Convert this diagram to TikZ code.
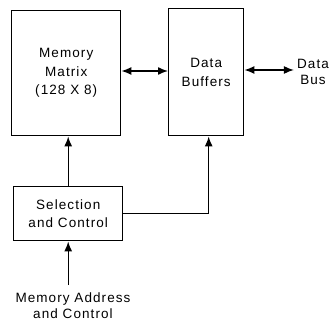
\documentclass[tikz,border=0pt]{standalone}
\usepackage{fontspec}
\setmainfont{Liberation Sans}[LetterSpace=8]
\usetikzlibrary{positioning,arrows.meta}

\begin{document}
\begin{tikzpicture}[x=1pt,y=-1pt,
        block/.style={draw,line width=1.4pt,inner sep=0pt,align=center,anchor=north west,
          font=\fontsize{13.5}{18.5}\selectfont},
        txt/.style={inner sep=0pt,align=center,font=\fontsize{13.5}{16}\selectfont},
        link/.style={line width=1.4pt},
        tip/.style={-{Latex[length=10pt,width=8pt]}},
        tips/.style={{Latex[length=10pt,width=8pt]}-{Latex[length=10pt,width=8pt]}}]
        \useasboundingbox (0,0) rectangle (331,323);
        \node[block,minimum width=109pt,minimum height=125pt] (matrix) at (11,10) {Memory\\Matrix\\(128 X 8)};
        \node[block,minimum width=75pt,minimum height=127pt] (buffers) at (168,8) {Data\\Buffers};
        \node[block,minimum width=109pt,minimum height=54pt] (select) at (13,186) {Selection\\and Control};
        \node[txt] (bus) at (313,72) {Data\\Bus};
        \node[txt] (addr) at (73,306) {Memory Address\\and Control};
        \coordinate (in) at (select.south |- 0,285);
        \draw[link,tips] (matrix.east |- 0,71) -- (buffers.west |- 0,71);
        \draw[link,tips] (buffers.east |- 0,70) -- ([xshift=-3pt]bus.west |- 0,70);
        \draw[link,tip] (select.north) -- (select.north |- matrix.south);
        \draw[link,tip] (select.east) -| ([xshift=2.5pt]buffers.south);
        \draw[link,tip] (in) -- (select.south);
\end{tikzpicture}
\end{document}
